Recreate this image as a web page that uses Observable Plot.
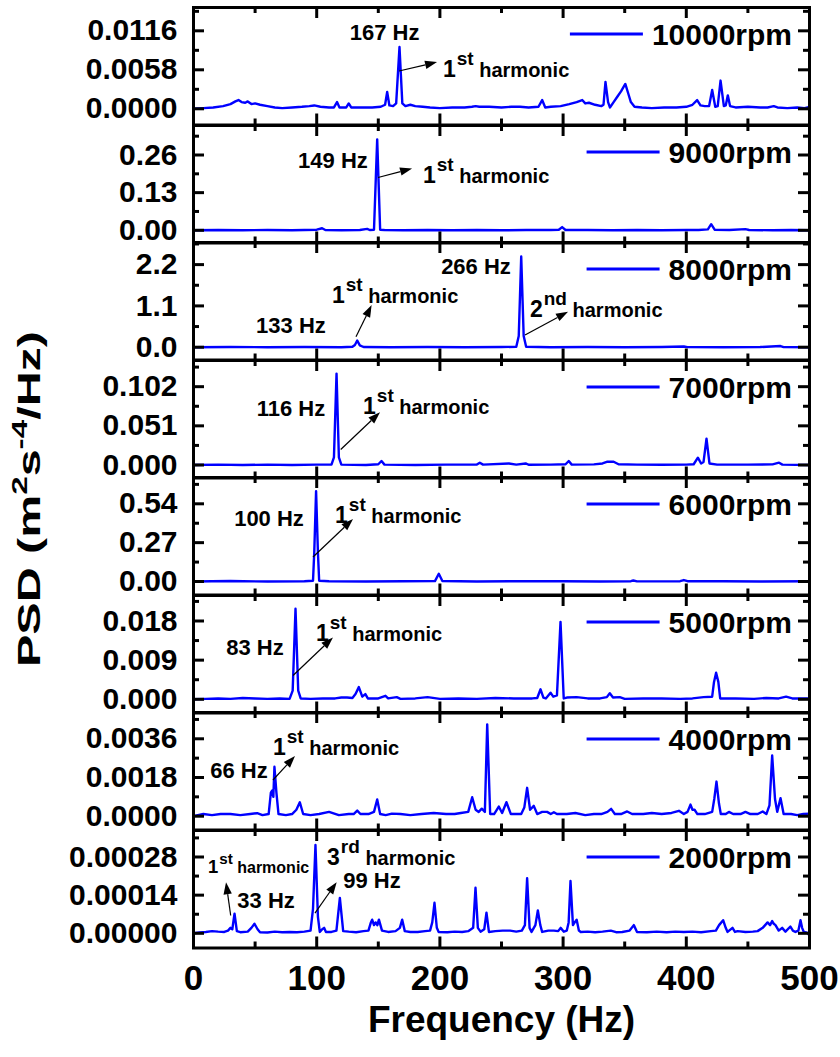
<!DOCTYPE html>
<html>
<head>
<meta charset="utf-8">
<script src="https://cdn.jsdelivr.net/npm/d3@7"></script>
<script src="https://cdn.jsdelivr.net/npm/@observablehq/plot@0.6"></script>
<style>
  body { margin: 0; background: #fff; }
  #chart { position: relative; width: 840px; height: 1057px; font-family: "Liberation Sans", Arial, sans-serif; }
  #chart svg { position: absolute; left: 0; overflow: visible; background: none; }
</style>
</head>
<body>
<div id="chart"></div>
<script>
// ---- Spectra: [frequency (Hz), PSD (m^2 s^-4 / Hz)] ----
const psd10000 = [[0,0],[8,0.0001],[16,0.0002],[24,0.0004],[30,0.0007],[34,0.0011],[36.5,0.0013],[39,0.0010],[42,0.0009],[44,0.0011],[47,0.0007],[50,0.0008],[54,0.0006],[60,0.0004],[66,0.0002],[72,0.0001],[80,0.0002],[88,0.0003],[94,0.0004],[98,0.0005],[103,0.0003],[110,0.0002],[114,0.0002],[116.5,0.0010],[118.5,0.0002],[124,0.0002],[126,0.0008],[128,0.0002],[136,0.0002],[145,0.0002],[152,0.0003],[155.5,0.0006],[157.2,0.0025],[159,0.0005],[162,0.0004],[164.5,0.0008],[167.2,0.0092],[169.5,0.0008],[172,0.0004],[176,0.0006],[180,0.0004],[186,0.0003],[192,0.0002],[200,0.0001],[210,0.0002],[220,0.0002],[226,0.0003],[229,0.0004],[232,0.0003],[240,0.0003],[250,0.0002],[258,0.0003],[265,0.0003],[272,0.0002],[280,0.0003],[283,0.0013],[285.5,0.0002],[290,0.0003],[298,0.0004],[305,0.0007],[311,0.0010],[315.5,0.0013],[318,0.0008],[321,0.0009],[326,0.0006],[331,0.0004],[332.8,0.0006],[334.4,0.0040],[336.5,0.0010],[338,0.0002],[341,0.0010],[344,0.0018],[347,0.0026],[350.5,0.0037],[353,0.0022],[355,0.0010],[358,0.0003],[364,0.0002],[372,0.0001],[382,0.0002],[392,0.0002],[400,0.0003],[405,0.0006],[408.8,0.0013],[411.5,0.0005],[415,0.0004],[418.5,0.0004],[421,0.0028],[423.5,0.0003],[425.5,0.0004],[427.8,0.0042],[430.5,0.0004],[432,0.0005],[433.7,0.0020],[435.5,0.0004],[440,0.0002],[450,0.0003],[460,0.0002],[466,0.0002],[471,0.0004],[474,0.0002],[482,0.0001],[490,0.0002],[496,0.0001],[500,0.0003]];

const psd9000 = [[0,0],[20,0.001],[40,0],[60,0.001],[80,0],[100,0.002],[104.4,0.007],[107,0.001],[120,0],[135,0.001],[141,0.005],[143,0.001],[146.5,0.002],[149.1,0.314],[151.5,0.002],[155,0.001],[170,0],[190,0.001],[210,0],[230,0.001],[250,0],[270,0.001],[290,0.001],[296.5,0.002],[299.2,0.011],[302,0.001],[320,0.001],[340,0],[360,0.001],[380,0],[400,0.001],[410,0.001],[417.5,0.003],[420.2,0.021],[423,0.002],[435,0.001],[448,0.004],[451,0.001],[470,0],[485,0.001],[500,0]];

const psd8000 = [[0,0],[30,0.005],[60,0],[90,0.005],[120,0],[129,0.01],[131,0.06],[132.9,0.178],[135,0.05],[138,0.005],[160,0],[190,0.005],[220,0],[250,0.005],[262,0.01],[264,0.3],[266,2.415],[268,0.3],[270,0.01],[290,0],[320,0.005],[350,0],[380,0.005],[398,0.02],[401,0.003],[430,0],[460,0.005],[476.5,0.03],[479,0.003],[500,0]];

const psd7000 = [[0,0],[20,0.0005],[40,0],[60,0.0005],[80,0],[100,0.0005],[112,0.0005],[114,0.01],[116.1,0.119],[118,0.01],[120,0.0005],[140,0],[150,0.001],[152.6,0.0052],[155,0.0005],[180,0],[205,0.0005],[230,0.0005],[232.4,0.003],[235,0.0005],[256,0.002],[262,0.0005],[269.6,0.002],[272,0.0003],[290,0.0005],[302,0.001],[304.6,0.0052],[307,0.0005],[325,0.0008],[332,0.002],[336,0.0043],[341,0.0043],[345,0.001],[360,0.0005],[380,0.0003],[400,0.0005],[406,0.001],[409.4,0.0095],[412,0.002],[414,0.004],[416.4,0.0343],[418.8,0.002],[425,0.0005],[450,0.0005],[470,0.0008],[475.3,0.003],[478,0.0005],[500,0]];

const psd6000 = [[0,0],[30,0.003],[60,0],[90,0.002],[97,0.005],[98,0.2],[99.5,0.628],[101,0.2],[102,0.005],[110,0.002],[140,0],[170,0.002],[196,0.003],[199.1,0.0535],[202,0.003],[230,0],[260,0.002],[300,0.002],[330,0],[355,0.002],[357,0.007],[360,0.001],[395,0.002],[398,0.01],[401,0.002],[430,0.002],[460,0],[500,0.002]];

const psd5000 = [[0,0],[10,0.0001],[20,0.0002],[30,0.0001],[40,0.0003],[50,0.0002],[60,0.0001],[70,0.0002],[78,0.0001],[80.5,0.002],[82.8,0.0208],[85,0.002],[87,0.0002],[95,0.0001],[105,0.0002],[115,0.0002],[120,0.0004],[124.6,0.0004],[129,0.0003],[131.5,0.0012],[134.2,0.0028],[137,0.0006],[139.5,0.0012],[141.5,0.0002],[150,0.0002],[155.8,0.0008],[158,0.0002],[165,0.0005],[168,0.0001],[180,0.0002],[190,0.0005],[200,0.0001],[215,0.0002],[230,0.0001],[245,0.0003],[260,0.0002],[275,0.0002],[279,0.0003],[281.7,0.0023],[284,0.0004],[286,0.0002],[289.8,0.0015],[292,0.0006],[295,0.0009],[297.9,0.0178],[300.5,0.0002],[303,0.0004],[311,0.0005],[320,0.0002],[330,0.0002],[335.5,0.0005],[337.9,0.0014],[340.5,0.0004],[346,0.0005],[350,0.0001],[365,0.0002],[380,0.0002],[395,0.0001],[405,0.0002],[414,0.0005],[421,0.0006],[422.5,0.004],[424.2,0.0061],[426,0.004],[427.5,0.0002],[440,0.0002],[455,0.0001],[465,0.0003],[475,0.0002],[481,0.0006],[486,0.0002],[495,0.0002],[500,0.0002]];

const psd4000 = [[0,0],[8,0.0001],[15,0.00005],[22,0.0001],[30,0.0001],[38,0.00005],[46,0.0001],[51.7,0.00014],[56,0.00005],[61,0.0001],[62.8,0.0011],[63.9,0.0012],[64.8,0.0009],[65.7,0.0023],[67.3,0.0011],[69,0.0001],[75,0.00005],[80,0.0001],[83.5,0.0003],[86.3,0.00065],[89,0.0001],[95,0.00005],[102,0.0001],[110,0.0002],[118,0.00005],[126,0.0001],[130,0.0001],[132.9,0.00026],[135.5,0.0001],[142,0.0001],[146.5,0.0002],[149.1,0.00078],[151.5,0.0001],[156,0.00005],[161,0.00012],[168,0.0001],[176,0.00005],[185,0.0001],[195,0.00015],[205,0.0001],[212,0.0001],[217,0.00015],[223,0.0002],[226.2,0.00088],[229,0.0003],[231.5,0.0002],[234,0.00035],[236.5,0.0002],[238.4,0.00427],[240.8,0.0001],[244,0.0001],[247.8,0.00045],[250.5,0.00015],[254,0.00065],[257.6,0.0001],[262,0.0001],[266,0.0001],[268.5,0.0004],[270.8,0.00132],[273.2,0.0003],[276.2,0.00048],[279,0.0001],[283,0.0002],[287,0.0002],[290,0.0001],[292.5,0.00018],[295,0.0001],[303,0.0001],[310,0.00015],[318,0.00005],[325,0.0001],[331,0.0001],[336,0.0002],[339,0.00034],[342,0.0001],[347,0.0001],[352,0.00022],[356,0.0001],[365,0.0001],[372,0.00015],[380,0.0001],[388,0.00015],[394,0.00025],[398,0.0001],[401,0.0002],[403.4,0.00054],[405,0.0003],[406.7,0.0003],[409,0.0001],[415,0.0001],[421,0.0002],[422.7,0.0008],[424.5,0.00161],[426.5,0.0006],[428,0.0001],[432,0.0001],[434.6,0.0002],[438,0.0001],[444,0.0001],[448,0.0002],[452,0.0001],[458,0.0001],[462,0.00022],[465,0.0001],[467.5,0.0005],[469.7,0.00282],[472,0.0008],[473.8,0.0002],[476.5,0.00084],[479,0.0001],[485,0.0001],[490,0.00005],[495,0.0001],[500,0.00012]];

const psd2000 = [[0,0],[5,0.000003],[10,0.000005],[15,0.000008],[20,0.000006],[25,0.000005],[28,0.00001],[30,0.00002],[31.5,0.000015],[33.3,0.000072],[35.2,0.000008],[38,0.000004],[44,0.000006],[47,0.00002],[49.5,0.000035],[52,0.000015],[54,0.000004],[60,0.000003],[66,0.000006],[72,0.000004],[78,0.000005],[84,0.000004],[90,0.000006],[95,0.00001],[97,0.00009],[99,0.000324],[101,0.00006],[102.5,0.000005],[104.5,0.000015],[106,0.00002],[107.5,0.000005],[112,0.000005],[116,0.00001],[118.8,0.00013],[121.5,0.000008],[126,0.000006],[132,0.000004],[138,0.000008],[142,0.00001],[144,0.00004],[145,0.00005],[146.5,0.00003],[147.8,0.00004],[149.2,0.00003],[150.5,0.00005],[153,0.00001],[158,0.000005],[164,0.000008],[167.5,0.00002],[169.4,0.00005],[171.5,0.000008],[176,0.000005],[182,0.000005],[188,0.000008],[192,0.00001],[193.8,0.00004],[195.6,0.000112],[197.5,0.00002],[199,0.000005],[206,0.000004],[212,0.000006],[218,0.000005],[223,0.000008],[227,0.00002],[228.9,0.000167],[230.8,0.00002],[233,0.000006],[236,0.000015],[237.8,0.000076],[239.8,0.000005],[245,0.000008],[251,0.00001],[257,0.00001],[262,0.000006],[266.5,0.00001],[269,0.00003],[270.8,0.000202],[272.8,0.00002],[274.4,0.000005],[277.5,0.00003],[279.5,0.000084],[281.5,0.00003],[283,0.000005],[288,0.00001],[292.5,0.00001],[296,0.000008],[298,0.00002],[300.6,0.000006],[303,0.00001],[304.5,0.00004],[306,0.000192],[308,0.00003],[309.4,0.00004],[311,0.00005],[312.8,0.00001],[314.3,0.000005],[320,0.000006],[326,0.000004],[332,0.000006],[338.7,0.00001],[343,0.000004],[348,0.000005],[354,0.00001],[357.4,0.00003],[360,0.000005],[368,0.000004],[376,0.000006],[384,0.000004],[391,0.000006],[398,0.000005],[405,0.000006],[412,0.000004],[420,0.000008],[424,0.00001],[426.6,0.00003],[429.9,0.000048],[432,0.00002],[433.5,0.000005],[437.5,0.00002],[439.5,0.000005],[441.6,0.000008],[448,0.000005],[454,0.000006],[457.9,0.000008],[462,0.00002],[466,0.00004],[468,0.00003],[469.7,0.000045],[471,0.000035],[472.4,0.00003],[475,0.00001],[477.8,0.00002],[480.5,0.000006],[484.5,0.000025],[486.5,0.00001],[488.6,0.000005],[491,0.00001],[492.7,0.000048],[494,0.00002],[495.4,0.000005],[498,0.000002],[500,-0.000008]];

// ---- Panels, top to bottom ----
const rpmLabels = ["10000rpm", "9000rpm", "8000rpm", "7000rpm", "6000rpm", "5000rpm", "4000rpm", "2000rpm"];
const spectra = [psd10000, psd9000, psd8000, psd7000, psd6000, psd5000, psd4000, psd2000];

const yTicks = [
  [0, 0.0058, 0.0116], [0, 0.13, 0.26], [0, 1.1, 2.2], [0, 0.051, 0.102],
  [0, 0.27, 0.54], [0, 0.009, 0.018], [0, 0.0018, 0.0036], [0, 0.00014, 0.00028]
];
const yTickLabels = [
  ["0.0000", "0.0058", "0.0116"], ["0.00", "0.13", "0.26"], ["0.0", "1.1", "2.2"], ["0.000", "0.051", "0.102"],
  ["0.00", "0.27", "0.54"], ["0.000", "0.009", "0.018"], ["0.0000", "0.0018", "0.0036"], ["0.00000", "0.00014", "0.00028"]
];
const yMinorTicks = [
  [0.0029, 0.0087, 0.0145], [0.065, 0.195, 0.325], [0.55, 1.65, 2.75], [0.0255, 0.0765, 0.1275],
  [0.135, 0.405, 0.675], [0.0045, 0.0135, 0.0225], [0.0009, 0.0027, 0.0045], [0.00007, 0.00021, 0.00035]
];
const yDomains = [
  [-0.00241, 0.01507], [-0.0439, 0.3619], [-0.341, 2.789], [-0.01693, 0.1361],
  [-0.0938, 0.7228], [-0.00315, 0.02386], [-0.000642, 0.004823], [-0.0000539, 0.0003772]
];

const freqTicks = [0, 100, 200, 300, 400, 500];
const freqMinorTicks = [50, 150, 250, 350, 450];
const freqTickLabels = ["0", "100", "200", "300", "400", "500"];

// ---- Annotations (anchored in data coordinates of each panel) ----
const peakLabels = [
  {panel: "10000rpm", f: 155.5, v: 0.01135, text: "167 Hz"},
  {panel: "9000rpm", f: 113.6, v: 0.2393, text: "149 Hz"},
  {panel: "8000rpm", f: 79.5, v: 0.578, text: "133 Hz"},
  {panel: "8000rpm", f: 229.7, v: 2.149, text: "266 Hz"},
  {panel: "7000rpm", f: 79.5, v: 0.0730, text: "116 Hz"},
  {panel: "6000rpm", f: 61.7, v: 0.4379, text: "100 Hz"},
  {panel: "5000rpm", f: 50.3, v: 0.01179, text: "83 Hz"},
  {panel: "4000rpm", f: 37.3, v: 0.002126, text: "66 Hz"},
  {panel: "2000rpm", f: 59.3, v: 0.0001185, text: "33 Hz"},
  {panel: "2000rpm", f: 145.3, v: 0.000192, text: "99 Hz"}
];
const harmonicLabels = [
  {panel: "10000rpm", f: 202.9, v: 0.00465, order: "1", suffix: "st", size: 1},
  {panel: "9000rpm", f: 186.7, v: 0.1633, order: "1", suffix: "st", size: 1},
  {panel: "8000rpm", f: 112.8, v: 1.156, order: "1", suffix: "st", size: 1},
  {panel: "8000rpm", f: 273.5, v: 0.804, order: "2", suffix: "nd", size: 1},
  {panel: "7000rpm", f: 138.0, v: 0.0664, order: "1", suffix: "st", size: 1},
  {panel: "6000rpm", f: 115.3, v: 0.4052, order: "1", suffix: "st", size: 1},
  {panel: "5000rpm", f: 99.8, v: 0.0134, order: "1", suffix: "st", size: 1},
  {panel: "4000rpm", f: 64.9, v: 0.002823, order: "1", suffix: "st", size: 1},
  {panel: "2000rpm", f: 12.2, v: 0.0002187, order: "1", suffix: "st", size: 0.8},
  {panel: "2000rpm", f: 108.8, v: 0.000247, order: "3", suffix: "rd", size: 1}
];
const arrows = [
  {panel: "10000rpm", f1: 167.2, v1: 0.00555, f2: 198.1, v2: 0.00688},
  {panel: "9000rpm", f1: 150.2, v1: 0.1806, f2: 177.8, v2: 0.2117},
  {panel: "8000rpm", f1: 132.3, v1: 0.266, f2: 145.0, v2: 1.110},
  {panel: "8000rpm", f1: 269.5, v1: 0.312, f2: 304.4, v2: 0.932},
  {panel: "7000rpm", f1: 119.9, v1: 0.01954, f2: 151.8, v2: 0.0681},
  {panel: "6000rpm", f1: 97.4, v1: 0.1668, f2: 129.9, v2: 0.4309},
  {panel: "5000rpm", f1: 81.2, v1: 0.005356, f2: 113.6, v2: 0.01409},
  {panel: "4000rpm", f1: 64.9, v1: 0.00166, f2: 82.8, v2: 0.002777},
  {panel: "2000rpm", f1: 30.6, v1: 0.0000635, f2: 26.8, v2: 0.0001857},
  {panel: "2000rpm", f1: 99.0, v1: 0.0000719, f2: 116.6, v2: 0.0001857}
];

// ---- Layout ----
const BLUE = "#0000ff";
const FONT = "'Liberation Sans', Arial, sans-serif";
const WIDTH = 840, M_LEFT = 193, M_RIGHT = 31;
const PANEL_H = 117.5, TOP = 7, BOTTOM_EXTRA = 110;
const MAJOR = 11, MINOR = 6;

const measureCtx = document.createElement("canvas").getContext("2d");
function textWidth(str, font) { measureCtx.font = font; return measureCtx.measureText(str).width; }

// Legend entry: short blue line followed by the rpm label, top-right of the frame
function legendEntry(label) {
  return (index, scales, values, dim) => {
    const right = dim.width - dim.marginRight - 17;
    const cy = dim.marginTop + 27;
    const tw = textWidth(label, `bold 30px ${FONT}`);
    const g = d3.create("svg:g");
    g.append("line")
      .attr("x1", right - tw - 9 - 73).attr("x2", right - tw - 9)
      .attr("y1", cy).attr("y2", cy)
      .attr("stroke", BLUE).attr("stroke-width", 3);
    g.append("text")
      .attr("x", right).attr("y", cy).attr("dy", "0.36em")
      .attr("text-anchor", "end").attr("font-size", 30).attr("font-weight", "bold")
      .attr("font-family", FONT).attr("fill", "black")
      .text(label);
    return g.node();
  };
}

// Peak frequency labels, harmonic labels (with superscript suffix) and arrows
function annotations(rpm) {
  return (index, scales) => {
    const x = scales.x, y = scales.y;
    const g = d3.create("svg:g").attr("font-family", FONT).attr("font-weight", "bold").attr("fill", "black");
    for (const a of arrows.filter(d => d.panel === rpm)) {
      const x1 = x(a.f1), y1 = y(a.v1), x2 = x(a.f2), y2 = y(a.v2);
      const ang = Math.atan2(y2 - y1, x2 - x1), L = 12, H = 4.2;
      const bx = x2 - L * Math.cos(ang), by = y2 - L * Math.sin(ang);
      g.append("line").attr("x1", x1).attr("y1", y1).attr("x2", bx).attr("y2", by)
        .attr("stroke", "black").attr("stroke-width", 1.2);
      g.append("path")
        .attr("d", `M${x2},${y2}L${bx - H * Math.sin(ang)},${by + H * Math.cos(ang)}L${bx + H * Math.sin(ang)},${by - H * Math.cos(ang)}Z`)
        .attr("fill", "black");
    }
    for (const p of peakLabels.filter(d => d.panel === rpm)) {
      g.append("text").attr("x", x(p.f)).attr("y", y(p.v)).attr("dy", "0.36em")
        .attr("text-anchor", "middle").attr("font-size", 22).text(p.text);
    }
    for (const h of harmonicLabels.filter(d => d.panel === rpm)) {
      const s = h.size;
      const t = g.append("text").attr("x", x(h.f)).attr("y", y(h.v)).attr("text-anchor", "start");
      t.append("tspan").attr("font-size", 23 * s).text(h.order);
      t.append("tspan").attr("font-size", 19 * s).attr("dx", 1).attr("dy", -12 * s).text(h.suffix);
      t.append("tspan").attr("font-size", 20 * s).attr("dy", 12 * s).text("\u00a0harmonic");
    }
    return g.node();
  };
}

const chart = document.getElementById("chart");
const frameW = WIDTH - M_LEFT - M_RIGHT;

rpmLabels.forEach((rpm, i) => {
  const last = i === rpmLabels.length - 1;
  const mb = last ? BOTTOM_EXTRA : 0;
  const ticks = yTicks[i], labels = yTickLabels[i], minor = yMinorTicks[i];
  const marks = [
    Plot.line(spectra[i], {x: d => d[0], y: d => d[1], stroke: BLUE, strokeWidth: 2.4, strokeLinejoin: "round"}),
    // inside ticks, left and right
    Plot.tickY(ticks, {y: d => d, stroke: "black", strokeWidth: 3, insetRight: frameW - MAJOR}),
    Plot.tickY(ticks, {y: d => d, stroke: "black", strokeWidth: 3, insetLeft: frameW - MAJOR}),
    Plot.tickY(minor, {y: d => d, stroke: "black", strokeWidth: 3, insetRight: frameW - MINOR}),
    Plot.tickY(minor, {y: d => d, stroke: "black", strokeWidth: 3, insetLeft: frameW - MINOR}),
    // inside ticks, bottom and top
    Plot.tickX(freqTicks, {x: d => d, stroke: "black", strokeWidth: 3, insetTop: PANEL_H - MAJOR}),
    Plot.tickX(freqTicks, {x: d => d, stroke: "black", strokeWidth: 3, insetBottom: PANEL_H - MAJOR}),
    Plot.tickX(freqMinorTicks, {x: d => d, stroke: "black", strokeWidth: 3, insetTop: PANEL_H - MINOR}),
    Plot.tickX(freqMinorTicks, {x: d => d, stroke: "black", strokeWidth: 3, insetBottom: PANEL_H - MINOR}),
    Plot.axisY(ticks, {anchor: "left", tickSize: 0, tickPadding: 16, fontSize: 30, fontWeight: "bold",
      tickFormat: d => labels[ticks.indexOf(d)], label: null}),
    Plot.frame({stroke: "black", strokeWidth: 3}),
    legendEntry(rpm),
    annotations(rpm)
  ];
  if (last) {
    marks.push(
      Plot.axisX(freqTicks, {anchor: "bottom", tickSize: 0, tickPadding: 17, fontSize: 35, fontWeight: "bold",
        tickFormat: d => freqTickLabels[freqTicks.indexOf(d)], label: null}),
      Plot.text(["Frequency (Hz)"], {text: d => d, frameAnchor: "bottom", dy: 84, fontSize: 37, fontWeight: "bold"})
    );
  }
  const svg = Plot.plot({
    width: WIDTH,
    height: PANEL_H + mb,
    marginLeft: M_LEFT,
    marginRight: M_RIGHT,
    marginTop: 0,
    marginBottom: mb,
    x: {domain: [0, 500], axis: null},
    y: {domain: yDomains[i], axis: null},
    style: {fontFamily: FONT, color: "black", background: "none", overflow: "visible"},
    marks
  });
  svg.style.top = (TOP + i * PANEL_H) + "px";
  chart.appendChild(svg);
});

// Vertical axis title shared by all panels
const ySvg = d3.create("svg").attr("width", 60).attr("height", 1057).style("top", "0px");
const yTitle = ySvg.append("text")
  .attr("font-family", FONT).attr("font-weight", "bold").attr("font-size", 32).attr("fill", "black")
  .attr("text-anchor", "middle");
yTitle.append("tspan").text("PSD (m");
yTitle.append("tspan").attr("font-size", 22).attr("dy", -13).text("2");
yTitle.append("tspan").attr("dy", 13).text("s");
yTitle.append("tspan").attr("font-size", 22).attr("dy", -13).text("-4");
yTitle.append("tspan").attr("dy", 13).text("/Hz)");
chart.appendChild(ySvg.node());
const titleLen = yTitle.node().getComputedTextLength();
yTitle.attr("transform", `translate(40,499) rotate(-90) scale(${336 / titleLen},1)`);
</script>
</body>
</html>
